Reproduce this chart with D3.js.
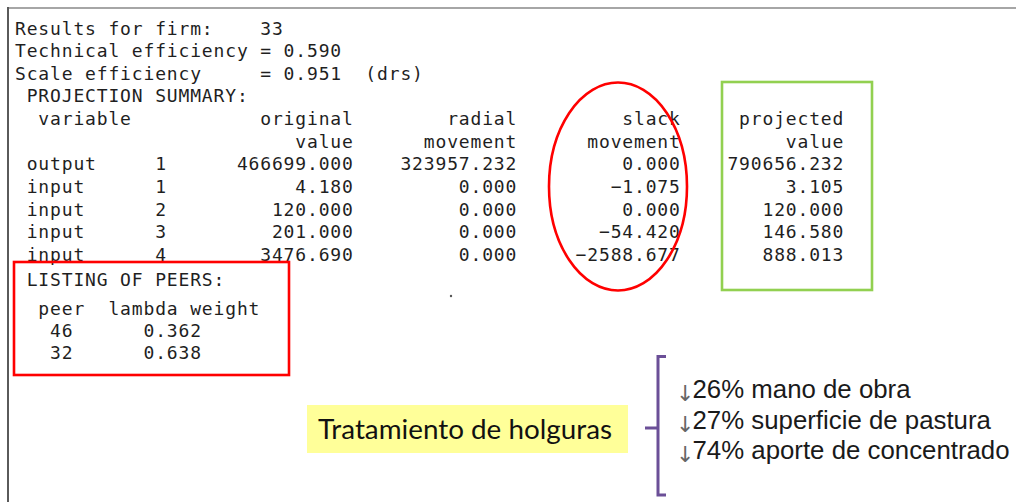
<!DOCTYPE html>
<html>
<head>
<meta charset="utf-8">
<script src="https://cdn.jsdelivr.net/npm/d3@7"></script>
<style>
  html, body { margin: 0; padding: 0; background: #fff; }
  svg { display: block; }
</style>
</head>
<body>
<div id="chart"></div>
<script>
// ---------- data ----------
const firm = 33;
const technicalEfficiency = 0.590;
const scaleEfficiency = 0.951;
const scaleType = "drs";

const variables = ["output", "input", "input", "input", "input"];
const variableIndex = [1, 1, 2, 3, 4];
const originalValue = [466699.000, 4.180, 120.000, 201.000, 3476.690];
const radialMovement = [323957.232, 0.000, 0.000, 0.000, 0.000];
const slackMovement = [0.000, -1.075, 0.000, -54.420, -2588.677];
const projectedValue = [790656.232, 3.105, 120.000, 146.580, 888.013];

const peers = [46, 32];
const lambdaWeights = [0.362, 0.638];

const slackLabel = "Tratamiento de holguras";
const slackArrow = "\u2193";
const slackPercents = [26, 27, 74];
const slackItems = ["mano de obra", "superficie de pastura", "aporte de concentrado"];

// ---------- layout ----------
const W = 1016, H = 502;
const svg = d3.select("#chart").append("svg")
  .attr("width", W).attr("height", H);

svg.append("rect").attr("width", W).attr("height", H).attr("fill", "#fff");

// frame lines
svg.append("line").attr("x1", 8).attr("x2", W).attr("y1", 8).attr("y2", 8)
  .attr("stroke", "#a6a6a6").attr("stroke-width", 2);
svg.append("line").attr("x1", 8).attr("x2", 8).attr("y1", 7).attr("y2", H)
  .attr("stroke", "#5a5a5a").attr("stroke-width", 2);

// monospace character grid
const col = d3.scaleLinear().domain([0, 1]).range([15, 15 + 11.68]);
const row = d3.scaleLinear().domain([0, 1]).range([34.5, 34.5 + 22.65]);
const f3 = d3.format(".3f");

const lines = [];
lines.push({ r: 0, s: "Results for firm:    " + firm });
lines.push({ r: 1, s: "Technical efficiency = " + f3(technicalEfficiency) });
lines.push({ r: 2, s: "Scale efficiency     = " + f3(scaleEfficiency) + "  (" + scaleType + ")" });
lines.push({ r: 3, s: " PROJECTION SUMMARY:" });
lines.push({ r: 4, s: "  variable" + "original".padStart(19) + "radial".padStart(14) + "slack".padStart(14) + "projected".padStart(14) });
lines.push({ r: 5, s: "value".padStart(29) + "movement".padStart(14) + "movement".padStart(14) + "value".padStart(14) });
variables.forEach((v, i) => {
  lines.push({
    r: 6 + i,
    s: " " + v.padEnd(11) + String(variableIndex[i]) +
       f3(originalValue[i]).padStart(16) +
       f3(radialMovement[i]).padStart(14) +
       f3(slackMovement[i]).padStart(14) +
       f3(projectedValue[i]).padStart(14)
  });
});
lines.push({ r: 11.12, s: " LISTING OF PEERS:" });
lines.push({ r: 12.4, s: "  peer  lambda weight" });
peers.forEach((p, i) => {
  lines.push({ r: 13.35 + i * 0.97, s: "   " + String(p).padEnd(8) + f3(lambdaWeights[i]) });
});

svg.append("g")
  .attr("font-family", "'DejaVu Sans Mono', monospace")
  .attr("font-size", 18)
  .attr("fill", "#1f1f1f")
  .selectAll("text").data(lines).join("text")
  .attr("xml:space", "preserve")
  .style("white-space", "pre")
  .attr("letter-spacing", 11.68 - 18 * 0.6021)
  .attr("x", col(0))
  .attr("y", d => row(d.r))
  .text(d => d.s);

// tiny stray dot
svg.append("circle").attr("cx", 451).attr("cy", 296).attr("r", 1.2).attr("fill", "#555");

// red ellipse around slack column
svg.append("ellipse")
  .attr("cx", 618).attr("cy", 186.5).attr("rx", 69).attr("ry", 104)
  .attr("fill", "none").attr("stroke", "#ff0000").attr("stroke-width", 2.6);

// green rectangle around projected column
svg.append("rect")
  .attr("x", 722).attr("y", 82).attr("width", 150).attr("height", 208)
  .attr("fill", "none").attr("stroke", "#92d050").attr("stroke-width", 2.6);

// red rectangle around peers
svg.append("rect")
  .attr("x", 14).attr("y", 262).attr("width", 275).attr("height", 113)
  .attr("fill", "none").attr("stroke", "#ff0000").attr("stroke-width", 2.6);

// yellow label
svg.append("rect")
  .attr("x", 307).attr("y", 405).attr("width", 321).attr("height", 48)
  .attr("fill", "#ffff99");
svg.append("text")
  .attr("x", 318).attr("y", 439)
  .attr("font-family", "Lato, 'Open Sans', sans-serif")
  .attr("font-size", 26)
  .attr("fill", "#111")
  .attr("textLength", 294)
  .attr("lengthAdjust", "spacingAndGlyphs")
  .text(slackLabel);

// purple brace
const brace = d3.path();
brace.moveTo(666, 356.5);
brace.lineTo(658, 356.5);
brace.lineTo(658, 428);
brace.moveTo(645, 428);
brace.lineTo(658, 428);
brace.lineTo(658, 495);
brace.lineTo(666, 495);
svg.append("path").attr("d", brace.toString())
  .attr("fill", "none").attr("stroke", "#6b4f97").attr("stroke-width", 3);

// slack bullet list
const items = slackItems.map((t, i) => ({ pct: slackPercents[i], t, i }));
const itemY = d3.scaleLinear().domain([0, 1]).range([398, 428.5]);
const itemG = svg.append("g")
  .attr("font-family", "'Liberation Sans', Arimo, Arial, sans-serif")
  .attr("font-size", 23)
  .attr("fill", "#1a1a1a");
const it = itemG.selectAll("text").data(items).join("text")
  .attr("x", 676).attr("y", d => itemY(d.i));
it.append("tspan").attr("fill", "#666").attr("font-family", "'DejaVu Sans', sans-serif")
  .attr("font-size", 22).attr("dy", 3).text(slackArrow);
it.append("tspan").attr("dx", -2).attr("dy", -3).text(d => d.pct + "% " + d.t);
// fit the longest line to the reference width
const widest = d3.max(it.nodes(), n => n.getComputedTextLength());
if (widest > 0) itemG.attr("font-size", 23 * 338 / widest);
</script>
</body>
</html>
